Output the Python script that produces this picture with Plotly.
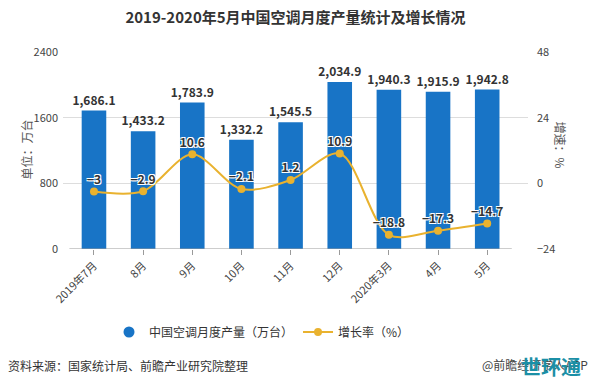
import plotly.graph_objects as go

categories = ["2019年7月", "8月", "9月", "10月", "11月", "12月", "2020年3月", "4月", "5月"]
production = [1686.1, 1433.2, 1783.9, 1332.2, 1545.5, 2034.9, 1940.3, 1915.9, 1942.8]
growth = [-3, -2.9, 10.6, -2.1, 1.2, 10.9, -18.8, -17.3, -14.7]
left_ticks = [0, 800, 1600, 2400]
right_ticks = [-24, 0, 24, 48]

BLUE = "#1874C6"
GOLD = "#E9B22F"
FONT = "Noto Sans CJK SC"

W, H = 591, 385
L, R, T, B = 63, 63, 52, 136
pw, ph = W - L - R, H - T - B

def px(x):
    return (x - L) / pw

def py(y):
    return (H - B - y) / ph

fig = go.Figure()

fig.add_trace(go.Bar(
    x=list(range(len(categories))), y=production, width=0.5,
    marker=dict(color=BLUE, line=dict(width=0)),
    texttemplate="%{y:,.1f}", textposition="outside", textangle=0, constraintext="none",
    textfont=dict(family=FONT, size=12, color="#333333", weight="bold"),
    cliponaxis=False, showlegend=False, hoverinfo="skip",
))
fig.add_trace(go.Scatter(
    x=[None], y=[None], mode="markers", name="中国空调月度产量（万台）",
    marker=dict(color=BLUE, size=11, symbol="circle"),
))
fig.add_trace(go.Scatter(
    x=list(range(len(categories))), y=growth, yaxis="y2",
    mode="lines+markers", name="增长率（%）",
    line=dict(color=GOLD, width=2, shape="spline", smoothing=0.9),
    marker=dict(color=GOLD, size=8),
    cliponaxis=False, hoverinfo="skip",
))
fig.add_trace(go.Scatter(
    x=list(range(len(categories))), y=growth, yaxis="y2",
    mode="markers+text", texttemplate="%{y}", textposition="top center",
    marker=dict(size=6, color="rgba(0,0,0,0)"),
    textfont=dict(family=FONT, size=12, color="#333333", weight="bold",
                  shadow="1px 1px 0 #fff, -1px -1px 0 #fff, 1px -1px 0 #fff, -1px 1px 0 #fff"),
    cliponaxis=False, showlegend=False, hoverinfo="skip",
))

# x-axis baseline
fig.add_shape(type="line", xref="x", yref="y", x0=-0.5, x1=len(categories) - 0.5,
              y0=0, y1=0, line=dict(color="#9a9a9a", width=1))

fig.update_layout(
    width=W, height=H,
    margin=dict(l=L, r=R, t=T, b=B),
    paper_bgcolor="white", plot_bgcolor="white",
    font=dict(family=FONT, size=11, color="#444444"),
    title=dict(text="<b>2019-2020年5月中国空调月度产量统计及增长情况</b>",
               x=0.5, xanchor="center", y=1 - 18 / H, yanchor="middle",
               font=dict(family=FONT, size=15, color="#333333")),
    xaxis=dict(
        tickmode="array", tickvals=list(range(len(categories))), ticktext=categories,
        range=[-0.63, 8.83], tickangle=-45, ticks="outside", ticklen=5,
        tickcolor="#9a9a9a", showgrid=False, zeroline=False, showline=False,
        tickfont=dict(size=11, color="#444444"),
    ),
    yaxis=dict(
        range=[0, 2400], tickvals=left_ticks, showgrid=True, gridcolor="#dddddd",
        zeroline=False, ticks="", tickfont=dict(size=11, color="#444444"),
        ticklabelstandoff=4,
    ),
    yaxis2=dict(
        range=[-24, 48], tickvals=right_ticks, overlaying="y", side="right",
        showgrid=False, zeroline=False, ticks="", tickfont=dict(size=11, color="#444444"),
        ticklabelstandoff=8,
    ),
    legend=dict(orientation="h", x=px(262), xanchor="center", y=py(332), yanchor="middle",
                font=dict(family=FONT, size=12, color="#333333"), itemwidth=30,
                bgcolor="rgba(0,0,0,0)"),
    showlegend=True,
)

fig.add_annotation(text="单位：万台", xref="paper", yref="paper", x=px(15), y=py(150),
                   textangle=-90, showarrow=False, font=dict(size=12, color="#555555"))
fig.add_annotation(text="增速：%", xref="paper", yref="paper", x=px(571), y=py(145),
                   textangle=90, showarrow=False, font=dict(size=12, color="#555555"))
fig.add_annotation(text="资料来源：国家统计局、前瞻产业研究院整理", xref="paper", yref="paper",
                   x=px(6), y=py(365), xanchor="left", yanchor="middle", showarrow=False,
                   font=dict(size=12, color="#333333"))
fig.add_annotation(text="@前瞻经济学人APP", xref="paper", yref="paper",
                   x=px(590), y=py(364), xanchor="right", yanchor="middle", showarrow=False,
                   font=dict(size=12, color="#444444"))
fig.add_annotation(text="<b>世环通</b>", xref="paper", yref="paper",
                   x=px(551), y=py(366), xanchor="center", yanchor="middle", showarrow=False,
                   font=dict(size=20, color="#1B8FA6"))

fig.write_html("out.html", config={"displayModeBar": False},
               post_script="document.body.style.margin='0';")
